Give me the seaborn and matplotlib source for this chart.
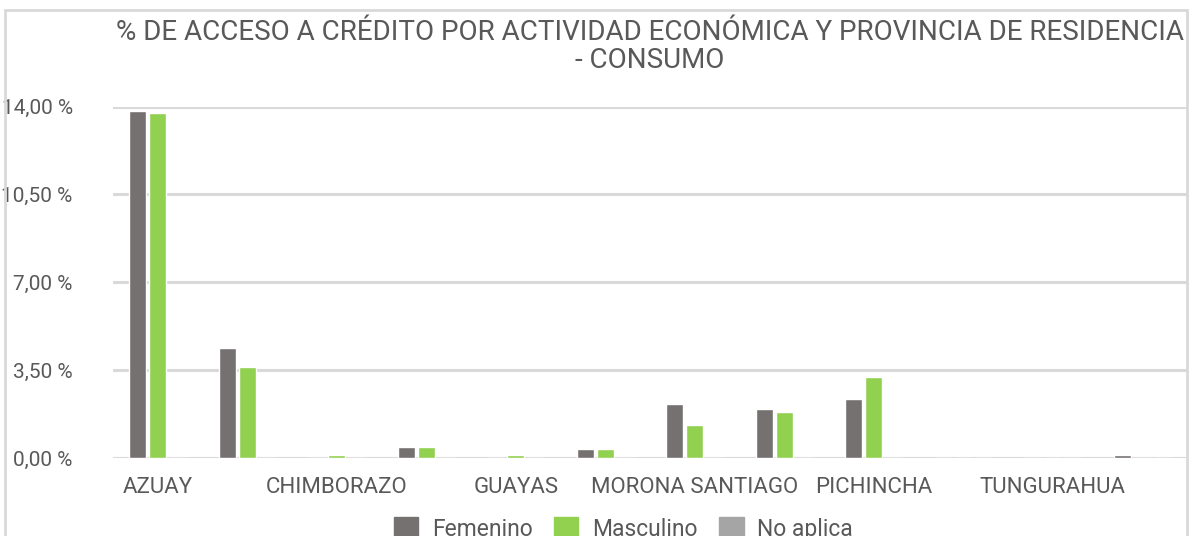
import pandas as pd
import seaborn as sns
import matplotlib.pyplot as plt
from matplotlib.patches import Rectangle
from matplotlib.ticker import FuncFormatter

# Provinces (only every other name is shown on the axis, as in the original)
provincias = ['AZUAY', 'CAÑAR', 'CHIMBORAZO', 'EL ORO', 'GUAYAS', 'LOJA',
              'MORONA SANTIAGO', 'NAPO', 'PICHINCHA', 'SANTO DOMINGO',
              'TUNGURAHUA', 'ZAMORA CHINCHIPE']
femenino = [13.82, 4.38, 0.0, 0.44, 0.0, 0.36, 2.15, 1.95, 2.35, 0.0, 0.0, 0.12]
masculino = [13.75, 3.63, 0.12, 0.44, 0.12, 0.36, 1.31, 1.83, 3.23, 0.0, 0.0, 0.0]
no_aplica = [0.0] * 12
series = ['Femenino', 'Masculino', 'No aplica']
colores = ['#767171', '#92D050', '#A5A5A5']
y_ticks = [0, 3.5, 7, 10.5, 14]

df = pd.DataFrame({'provincia': provincias * 3,
                   'sexo': [s for s in series for _ in provincias],
                   'valor': femenino + masculino + no_aplica})

sns.set_style('white')
plt.rcParams['font.family'] = ['Roboto', 'DejaVu Sans']
text_color = '#595959'
grid_color = '#D9D9D9'

fig = plt.figure(figsize=(11.9, 5.36), dpi=100)
ax = fig.add_axes([113 / 1190, 1 - 458 / 536, 1074 / 1190, 351.5 / 536])

sns.barplot(data=df, x='provincia', y='valor', hue='sexo', order=provincias,
            hue_order=series, palette=colores, width=0.67, gap=0.15,
            saturation=1, legend=False, ax=ax)

ax.set_xlim(-0.5, len(provincias) - 0.5)
ax.set_ylim(0, 14)
ax.set_yticks(y_ticks)
ax.yaxis.set_major_formatter(FuncFormatter(lambda v, p: f'{v:,.2f} %'.replace('.', ',')))
ax.set_xticks(range(len(provincias)))
ax.set_xticklabels([p if i % 2 == 0 else '' for i, p in enumerate(provincias)])
ax.set_xlabel('')
ax.set_ylabel('')
ax.grid(axis='y', color=grid_color, linewidth=2.2)
ax.set_axisbelow(True)
for s in ax.spines.values():
    s.set_visible(False)
ax.tick_params(axis='both', length=0, colors=text_color)
ax.tick_params(axis='y', pad=29, labelsize=15)
ax.tick_params(axis='x', pad=14, labelsize=16)

# outer chart frame (cut by the image border at the bottom)
fig.patches.append(Rectangle((5 / 1190, -0.2), 1182 / 1190, 1.2 - 10 / 536,
                             transform=fig.transFigure, fill=False,
                             edgecolor=grid_color, linewidth=2))

fig.text(0.546, 1 - 19 / 536,
         '% DE ACCESO A CRÉDITO POR ACTIVIDAD ECONÓMICA Y PROVINCIA DE RESIDENCIA\n- CONSUMO',
         ha='center', va='top', fontsize=20, color=text_color, linespacing=1.05)

handles = [Rectangle((0, 0), 1, 1, color=c) for c in colores]
fig.legend(handles, series, loc='center', bbox_to_anchor=(0.524, 1 - 529 / 536),
           ncol=3, frameon=False, fontsize=16.5, labelcolor=text_color,
           handlelength=1.05, handleheight=1.05, handletextpad=0.6,
           columnspacing=0.95)

fig.savefig('out.png', dpi=100)
